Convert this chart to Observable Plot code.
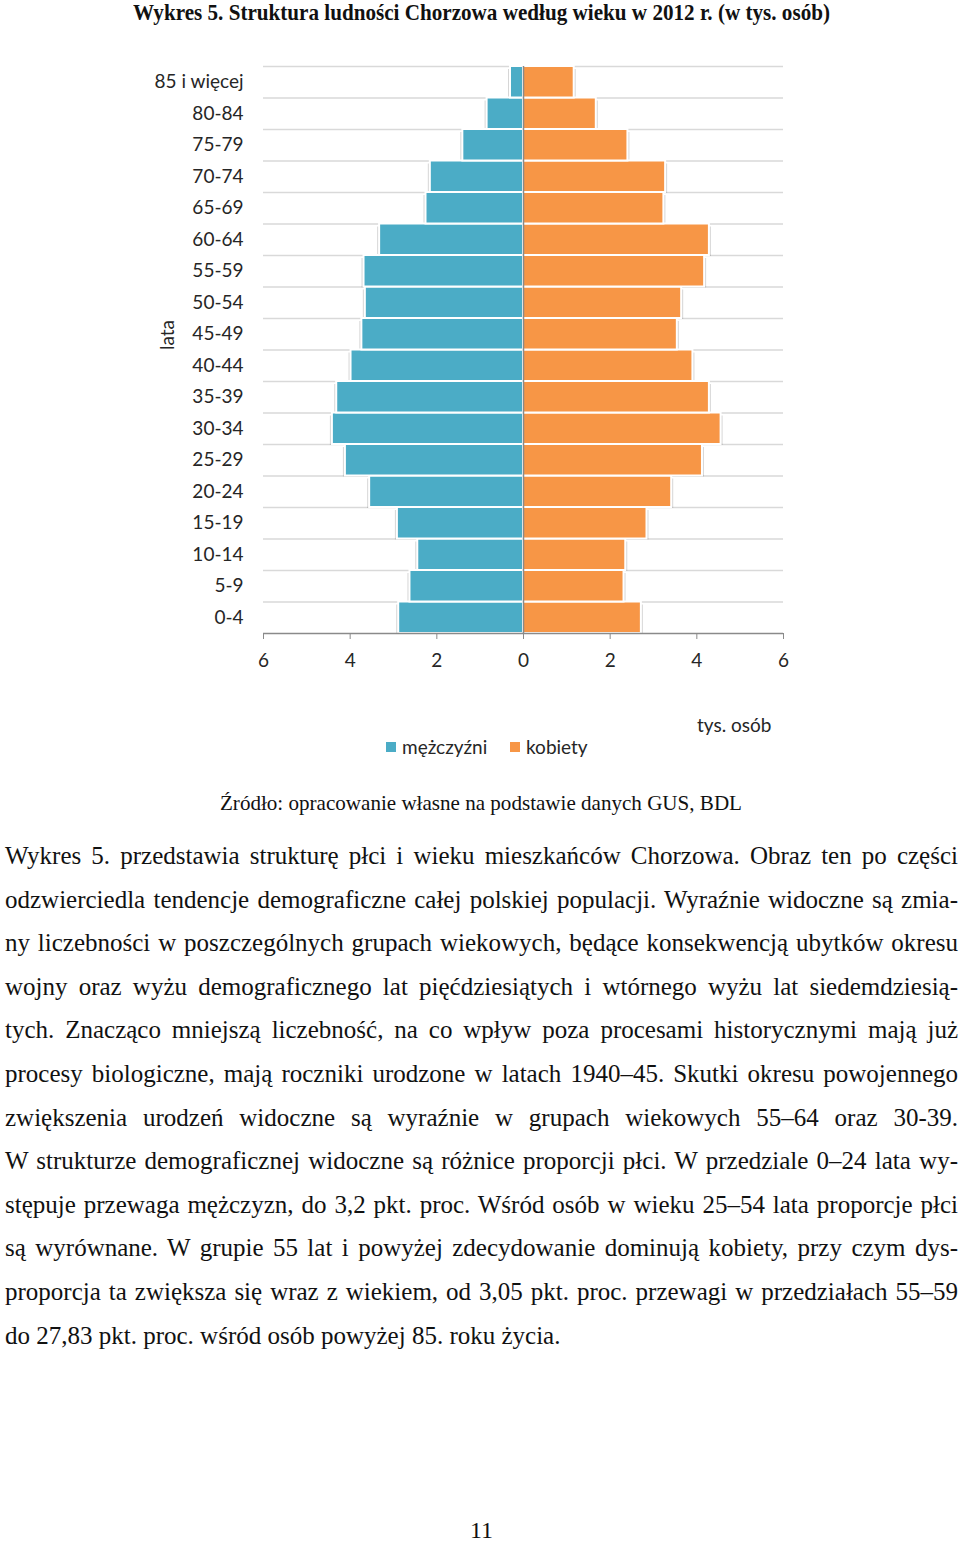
<!DOCTYPE html>
<html>
<head>
<meta charset="utf-8">
<script src="https://cdn.jsdelivr.net/npm/d3@7"></script>
<script src="https://cdn.jsdelivr.net/npm/@observablehq/plot@0.6"></script>
<style>
  html, body { margin: 0; padding: 0; background: #fff; }
  #page { position: relative; width: 960px; height: 1543px; overflow: hidden; }
  .abs { position: absolute; white-space: nowrap; }
  .serif { font-family: "Liberation Serif", "Times New Roman", serif; color: #111; }
  .sans { font-family: Lato, "Open Sans", sans-serif; color: #262626; font-size: 19px; }
  #chart { position: absolute; left: 0; top: 40px; }
  #chart svg .tick line, #chart svg [aria-label="x-axis tick"] { stroke: #8a8a8a; }
  .para { position: absolute; left: 5px; font-size: 25px; line-height: 30px; text-align: justify; text-align-last: justify; transform-origin: 0 50%; }
  .sw { display: inline-block; width: 10px; height: 10px; position: absolute; }
</style>
</head>
<body>
<div id="page">
  <div id="title" class="abs serif" style="font-weight:bold;font-size:24px;line-height:24px;top:0px;left:133px;transform-origin:0 50%;">Wykres 5. Struktura ludności Chorzowa według wieku w 2012 r. (w tys. osób)</div>
  <div id="chart"></div>
  <div class="abs sans" style="left:697px;top:714px;line-height:22px;">tys. osób</div>
  <span class="sw" style="left:386px;top:742px;background:#4bacc6;"></span>
  <div class="abs sans" style="left:402px;top:736px;line-height:22px;">mężczyźni</div>
  <span class="sw" style="left:510px;top:742px;background:#f79646;"></span>
  <div class="abs sans" style="left:526px;top:736px;line-height:22px;">kobiety</div>
  <div id="source" class="abs serif" style="font-size:22px;line-height:30px;top:788px;left:220px;transform-origin:0 50%;">Źródło: opracowanie własne na podstawie danych GUS, BDL</div>
  <div id="text"></div>
  <div class="abs serif" style="font-size:24px;line-height:20px;top:1520px;left:470px;">11</div>
</div>
<script>
// ---- data ----
const ages = ["0-4","5-9","10-14","15-19","20-24","25-29","30-34","35-39","40-44","45-49","50-54","55-59","60-64","65-69","70-74","75-79","80-84","85 i więcej"];
const men =   [2.88,2.62,2.44,2.91,3.55,4.11,4.41,4.31,3.98,3.73,3.65,3.68,3.32,2.25,2.15,1.40,0.84,0.30];
const women = [2.72,2.32,2.36,2.85,3.42,4.13,4.56,4.29,3.91,3.55,3.65,4.18,4.29,3.24,3.28,2.41,1.68,1.17];
const xTicks = [-6,-4,-2,0,2,4,6];
const seriesNames = ["mężczyźni","kobiety"];
const colors = ["#4bacc6","#f79646"];

const paragraphLines = [
  "Wykres 5. przedstawia strukturę płci i wieku mieszkańców Chorzowa. Obraz ten po części",
  "odzwierciedla tendencje demograficzne całej polskiej populacji. Wyraźnie widoczne są zmia-",
  "ny liczebności w poszczególnych grupach wiekowych, będące konsekwencją ubytków okresu",
  "wojny oraz wyżu demograficznego lat pięćdziesiątych i wtórnego wyżu lat siedemdziesią-",
  "tych. Znacząco mniejszą liczebność, na co wpływ poza procesami historycznymi mają już",
  "procesy biologiczne, mają roczniki urodzone w latach 1940–45. Skutki okresu powojennego",
  "zwiększenia urodzeń widoczne są wyraźnie w grupach wiekowych 55–64 oraz 30-39.",
  "W strukturze demograficznej widoczne są różnice proporcji płci. W przedziale 0–24 lata wy-",
  "stępuje przewaga mężczyzn, do 3,2 pkt. proc. Wśród osób w wieku 25–54 lata proporcje płci",
  "są wyrównane. W grupie 55 lat i powyżej zdecydowanie dominują kobiety, przy czym dys-",
  "proporcja ta zwiększa się wraz z wiekiem, od 3,05 pkt. proc. przewagi w przedziałach 55–59",
  "do 27,83 pkt. proc. wśród osób powyżej 85. roku życia."
];

const rows = ages.map((a, i) => ({age: a, m: men[i], k: women[i]}));
const yDomain = ages.slice().reverse();

// chart geometry (SVG top at 40px on the page)
const mTop = 26, frameH = 567, mBottom = 60;
const bw = frameH / ages.length;

const chart = Plot.plot({
  width: 960,
  height: mTop + frameH + mBottom,
  marginTop: mTop,
  marginBottom: mBottom,
  marginLeft: 263,
  marginRight: 177,
  style: {fontFamily: "Lato, 'Open Sans', sans-serif", fontSize: "19px", color: "#262626", background: "white"},
  x: {domain: [-6, 6], ticks: xTicks, tickFormat: d => Math.abs(d), tickSize: 6, tickPadding: 14, label: null},
  y: {domain: yDomain, padding: 0, round: false, tickSize: 0, tickPadding: 20, label: null},
  marks: [
    Plot.ruleY(ages, {y: d => d, x1: -6, x2: 6, stroke: "#d9d9d9", strokeWidth: 1.5, dy: -bw / 2}),
    // shadows
    Plot.barX(rows, {y: "age", x1: 0, x2: d => -d.m, fill: "#000", fillOpacity: 0.16, dx: -2, dy: 2, insetTop: 1, insetBottom: 1}),
    Plot.barX(rows, {y: "age", x1: 0, x2: d => d.k, fill: "#000", fillOpacity: 0.16, dx: 2, dy: 2, insetTop: 1, insetBottom: 1}),
    // bars
    Plot.barX(rows, {y: "age", x1: 0, x2: d => -d.m, fill: colors[0], stroke: "white", strokeWidth: 2, title: d => seriesNames[0]}),
    Plot.barX(rows, {y: "age", x1: 0, x2: d => d.k, fill: colors[1], stroke: "white", strokeWidth: 2, title: d => seriesNames[1]}),
    Plot.ruleX([0], {stroke: "#8a8a8a", strokeWidth: 1.5}),
    Plot.ruleY([ages[0]], {y: d => d, x1: -6, x2: 6, stroke: "#8a8a8a", strokeWidth: 1.5, dy: bw / 2}),
    Plot.text(["lata"], {frameAnchor: "left", dx: -96, rotate: -90, fontSize: 19})
  ]
});
document.getElementById("chart").appendChild(chart);

// ---- text layout helpers ----
function fitTo(el, target) {
  const w = el.getBoundingClientRect().width;
  el.style.transform = `scaleX(${target / w})`;
}
fitTo(document.getElementById("title"), 697);
fitTo(document.getElementById("source"), 522);

const textBox = document.getElementById("text");
const measurer = document.createElement("span");
measurer.className = "abs serif";
measurer.style.fontSize = "25px";
measurer.style.visibility = "hidden";
document.getElementById("page").appendChild(measurer);
paragraphLines.forEach((line, i) => {
  measurer.textContent = line;
  const natural = measurer.getBoundingClientRect().width;
  const target = 953;
  const last = i === paragraphLines.length - 1;
  const div = document.createElement("div");
  div.className = "para serif";
  div.textContent = line;
  const center = 856 + i * 43.6;
  div.style.top = (center - 15) + "px";
  if (last) {
    div.style.textAlignLast = "left";
    div.style.textAlign = "left";
    div.style.whiteSpace = "nowrap";
  } else {
    const s = Math.min(1, target / (natural + 2));
    div.style.width = (target / s) + "px";
    if (s < 1) div.style.transform = `scaleX(${s})`;
  }
  textBox.appendChild(div);
});
measurer.remove();
</script>
</body>
</html>
